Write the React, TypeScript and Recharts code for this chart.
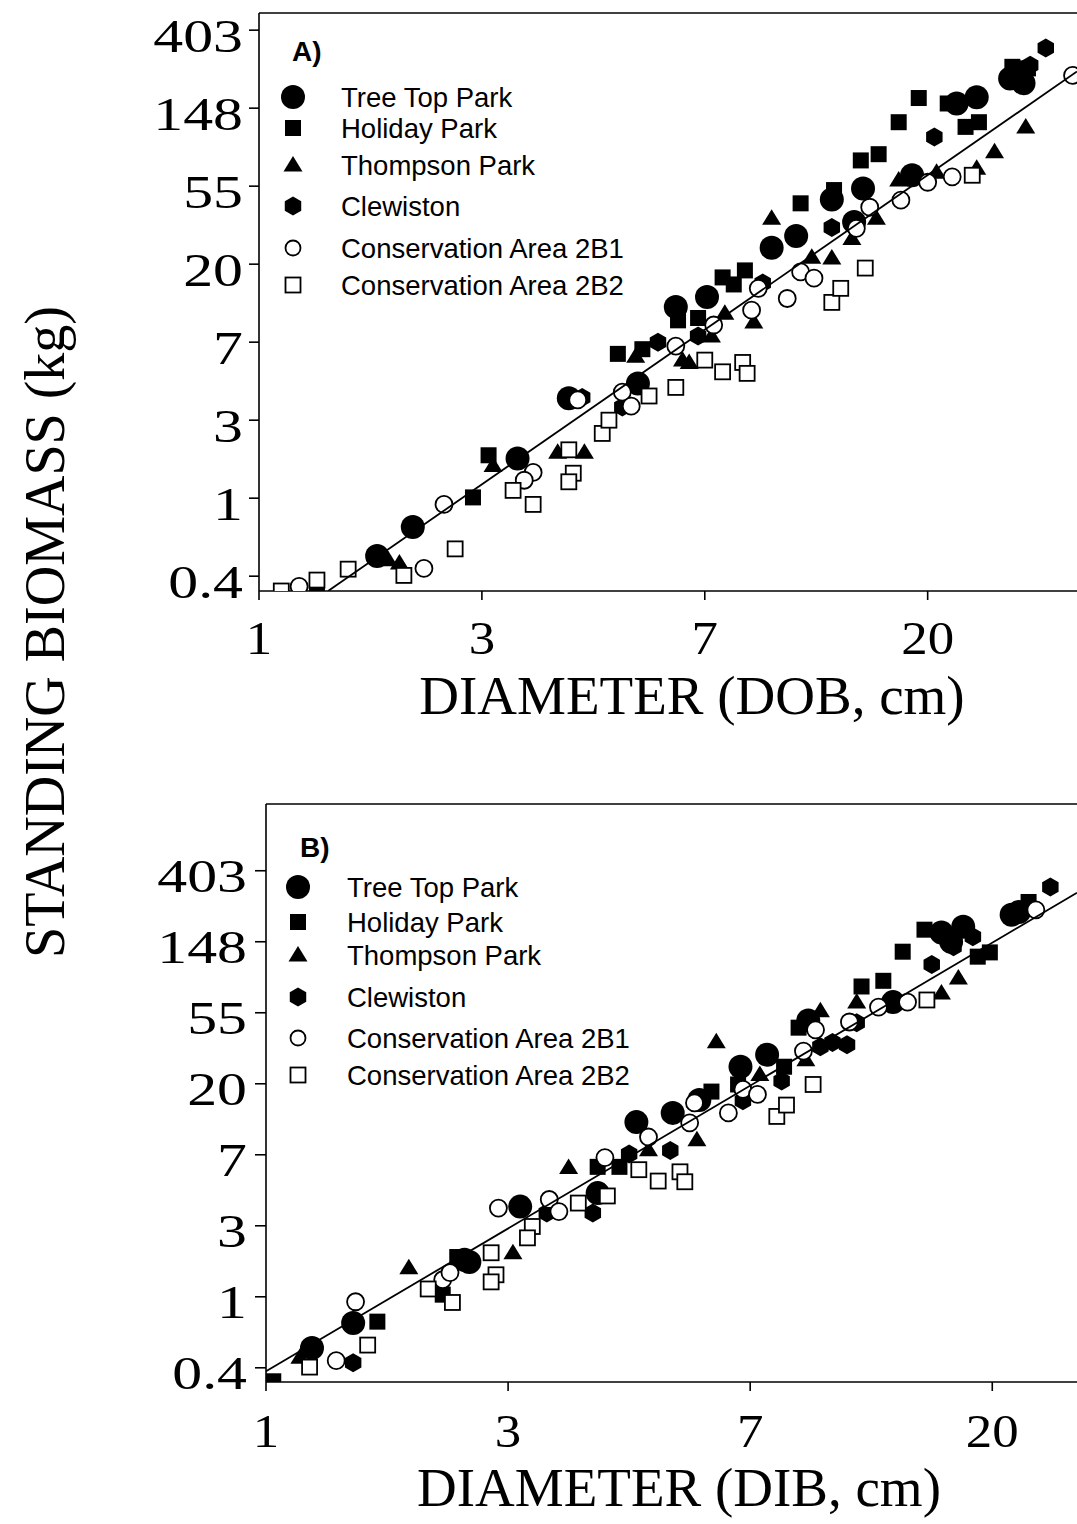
import React from 'react';
import { ScatterChart, Scatter, XAxis, YAxis, ReferenceLine, Customized } from 'recharts';

// All values are natural logs, as in the original figure:
// x = ln(diameter, cm), y = ln(standing biomass, kg). Tick labels are the back-transformed values.
type Pt = [number, number];

const xTickValues = [0, 1, 2, 3];
const xTickLabels = ['1', '3', '7', '20'];
const yTickValues = [-1, 0, 1, 2, 3, 4, 5, 6];
const yTickLabels = ['0.4', '1', '3', '7', '20', '55', '148', '403'];

const siteNames = [
  'Tree Top Park',
  'Holiday Park',
  'Thompson Park',
  'Clewiston',
  'Conservation Area 2B1',
  'Conservation Area 2B2',
];

// ---- Panel A: diameter outside bark (DOB)
const treeTopA: Pt[] = [
  [0.53, -0.74], [0.69, -0.37], [1.16, 0.51], [1.39, 1.28], [1.70, 1.47], [1.87, 2.45],
  [2.01, 2.58], [2.30, 3.21], [2.41, 3.36], [2.57, 3.83], [2.71, 3.97], [2.67, 3.54],
  [2.93, 4.14], [3.13, 5.06], [3.22, 5.14], [3.37, 5.38], [3.43, 5.32],
];
const holidayA: Pt[] = [
  [0.26, -1.19], [0.96, 0.01], [1.03, 0.55], [1.61, 1.85], [1.72, 1.91], [1.88, 2.28],
  [1.97, 2.31], [2.08, 2.83], [2.18, 2.92], [2.13, 2.74], [2.43, 3.78], [2.58, 3.95],
  [2.70, 4.33], [2.78, 4.41], [2.87, 4.82], [2.96, 5.13], [3.09, 5.06], [3.17, 4.76],
  [3.23, 4.82], [3.38, 5.53], [3.45, 5.51],
];
const thompsonA: Pt[] = [
  [0.58, -0.79], [0.63, -0.83], [1.05, 0.42], [1.34, 0.59], [1.46, 0.59], [1.69, 1.82],
  [1.90, 1.77], [1.93, 1.74], [2.03, 2.08], [2.09, 2.37], [2.22, 2.26], [2.30, 3.59],
  [2.48, 3.09], [2.57, 3.08], [2.66, 3.33], [2.77, 3.59], [2.87, 4.08], [3.04, 4.18],
  [3.22, 4.23], [3.30, 4.44], [3.44, 4.76],
];
const clewistonA: Pt[] = [
  [1.45, 1.29], [1.63, 1.17], [1.79, 2.0], [1.97, 2.08], [2.26, 2.76], [2.57, 3.47],
  [3.03, 4.63], [3.46, 5.55], [3.53, 5.77],
];
const area2b1A: Pt[] = [
  [0.18, -1.13], [0.74, -0.9], [0.83, -0.08], [1.23, 0.33], [1.19, 0.23], [1.43, 1.26],
  [1.63, 1.36], [1.67, 1.18], [1.87, 1.95], [2.04, 2.22], [2.21, 2.41], [2.24, 2.69],
  [2.37, 2.56], [2.43, 2.9], [2.49, 2.82], [2.68, 3.46], [2.74, 3.73], [2.88, 3.82],
  [3.0, 4.05], [3.11, 4.12], [3.65, 5.42],
];
const area2b2A: Pt[] = [
  [0.10, -1.19], [0.26, -1.05], [0.40, -0.91], [0.65, -0.99], [0.88, -0.65], [1.14, 0.10],
  [1.23, -0.08], [1.39, 0.62], [1.41, 0.32], [1.39, 0.21], [1.54, 0.83], [1.57, 1.0],
  [1.75, 1.31], [1.87, 1.42], [2.0, 1.77], [2.08, 1.62], [2.17, 1.74], [2.19, 1.6],
  [2.57, 2.51], [2.61, 2.69], [2.72, 2.95], [3.2, 4.14],
];
const fitA: Pt[] = [[0.31, -1.19], [3.67, 5.47]];

// ---- Panel B: diameter inside bark (DIB)
const treeTopB: Pt[] = [
  [0.19, -0.72], [0.36, -0.37], [0.82, 0.52], [0.84, 0.49], [1.05, 1.27], [1.37, 1.46],
  [1.53, 2.46], [1.68, 2.59], [1.79, 2.77], [1.96, 3.24], [2.07, 3.41], [2.24, 3.89],
  [2.59, 4.15], [2.79, 5.13], [2.83, 5.0], [2.88, 5.21], [3.08, 5.38], [3.11, 5.42],
];
const holidayB: Pt[] = [
  [0.03, -1.19], [0.46, -0.35], [0.73, 0.03], [0.79, 0.56], [1.37, 1.83], [1.46, 1.83],
  [1.84, 2.89], [1.95, 2.99], [2.14, 3.24], [2.2, 3.79], [2.46, 4.37], [2.55, 4.45],
  [2.63, 4.86], [2.72, 5.17], [2.94, 4.79], [2.99, 4.85], [3.15, 5.56],
];
const thompsonB: Pt[] = [
  [0.14, -0.85], [0.59, 0.41], [1.02, 0.62], [1.25, 1.82], [1.58, 2.07], [1.78, 2.21],
  [1.86, 3.59], [2.04, 3.13], [2.23, 3.34], [2.29, 4.03], [2.44, 4.15], [2.79, 4.28],
  [2.86, 4.49],
];
const clewistonB: Pt[] = [
  [0.36, -0.93], [1.16, 1.18], [1.35, 1.18], [1.5, 2.01], [1.67, 2.06], [1.97, 2.76],
  [2.13, 3.04], [2.29, 3.52], [2.34, 3.58], [2.4, 3.55], [2.44, 3.86], [2.75, 4.68],
  [2.84, 4.93], [2.92, 5.07], [3.24, 5.77],
];
const area2b1B: Pt[] = [
  [0.29, -0.9], [0.37, -0.07], [0.73, 0.24], [0.76, 0.34], [0.96, 1.25], [1.17, 1.37],
  [1.21, 1.2], [1.4, 1.96], [1.58, 2.25], [1.75, 2.45], [1.77, 2.73], [1.91, 2.59],
  [1.97, 2.92], [2.03, 2.85], [2.22, 3.46], [2.27, 3.76], [2.41, 3.87], [2.53, 4.08],
  [2.65, 4.15], [3.18, 5.45],
];
const area2b2B: Pt[] = [
  [0.18, -0.99], [0.42, -0.68], [0.67, 0.11], [0.77, -0.08], [0.93, 0.62], [0.95, 0.31],
  [0.93, 0.21], [1.1, 0.99], [1.08, 0.83], [1.29, 1.32], [1.41, 1.42], [1.54, 1.79],
  [1.62, 1.63], [1.71, 1.76], [1.73, 1.62], [2.11, 2.54], [2.15, 2.7], [2.26, 2.99],
  [2.73, 4.18],
];
const fitB: Pt[] = [[0.0, -1.05], [3.35, 5.69]];

const SERIF = '"Liberation Serif", "Times New Roman", serif';
const SANS = '"Liberation Sans", Arial, sans-serif';
const INK = '#000';
const AXIS = { stroke: INK, strokeWidth: 1.6 };

type Kind = 'dot' | 'square' | 'triangle' | 'hex' | 'ring' | 'box';
const kinds: Kind[] = ['dot', 'square', 'triangle', 'hex', 'ring', 'box'];

const toXY = (pts: Pt[]) => pts.map(([x, y]) => ({ x, y }));

function Mark({ kind, cx, cy, legend = false }: { kind: Kind; cx: number; cy: number; legend?: boolean }) {
  switch (kind) {
    case 'dot':
      return <circle cx={cx} cy={cy} r={12} fill={INK} />;
    case 'square':
      return <rect x={cx - 8} y={cy - 8} width={16} height={16} fill={INK} />;
    case 'triangle':
      return <polygon points={`${cx},${cy - 9} ${cx + 9.5},${cy + 6.5} ${cx - 9.5},${cy + 6.5}`} fill={INK} />;
    case 'hex': {
      const r = 9.5;
      const pts = [-90, -30, 30, 90, 150, 210]
        .map((a) => `${cx + r * Math.cos((a * Math.PI) / 180)},${cy + r * Math.sin((a * Math.PI) / 180)}`)
        .join(' ');
      return <polygon points={pts} fill={INK} />;
    }
    case 'ring':
      return <circle cx={cx} cy={cy} r={legend ? 7.5 : 8.5} fill="#fff" stroke={INK} strokeWidth={1.8} />;
    case 'box':
      return <rect x={cx - 7.5} y={cy - 7.5} width={15} height={15} fill="#fff" stroke={INK} strokeWidth={1.8} />;
  }
  return null;
}

const NoMark = () => <g />;

const makeXTick = (scaleX: number) => (props: any) => {
  const { x, y, payload } = props;
  const label = xTickLabels[xTickValues.indexOf(payload.value)];
  return (
    <text
      transform={`translate(${x},${y}) scale(${scaleX},1)`}
      textAnchor="middle"
      dy="0.7em"
      fontFamily={SERIF}
      fontSize={46}
      fill={INK}
    >
      {label}
    </text>
  );
};

const makeYTick = (scaleX: number) => (props: any) => {
  const { x, y, payload } = props;
  const label = yTickLabels[yTickValues.indexOf(payload.value)];
  return (
    <text
      transform={`translate(${x},${y + 6}) scale(${scaleX},1)`}
      textAnchor="end"
      dy="0.34em"
      fontFamily={SERIF}
      fontSize={46}
      fill={INK}
    >
      {label}
    </text>
  );
};

type PanelProps = {
  top: number;
  height: number;
  marginTop: number;
  yAxisWidth: number;
  xAxisHeight: number;
  xMax: number;
  yDomain: [number, number];
  yTickSize: number;
  yTickMargin: number;
  xTickMargin: number;
  series: Pt[][];
  fit: Pt[];
  tag: string;
  tagPos: [number, number];
  markX: number;
  textX: number;
  rows: number[];
  title: string;
  titlePos: [number, number];
};

function Panel(p: PanelProps) {
  const overlay = () => (
    <g>
      <text x={p.tagPos[0]} y={p.tagPos[1]} fontFamily={SANS} fontWeight="bold" fontSize={28} fill={INK}>
        {p.tag}
      </text>
      {siteNames.map((name, i) => (
        <g key={name}>
          <Mark kind={kinds[i]} cx={p.markX} cy={p.rows[i]} legend />
          <text x={p.textX} y={p.rows[i]} dy="0.36em" fontFamily={SANS} fontSize={27.5} fill={INK}>
            {name}
          </text>
        </g>
      ))}
      <text x={p.titlePos[0]} y={p.titlePos[1]} textAnchor="middle" fontFamily={SERIF} fontSize={55} fill={INK}>
        {p.title}
      </text>
    </g>
  );

  return (
    <div style={{ position: 'absolute', left: 0, top: p.top }}>
      <ScatterChart width={1077} height={p.height} margin={{ top: p.marginTop, right: 0, bottom: 0, left: 0 }}>
        <XAxis
          type="number"
          dataKey="x"
          domain={[0, p.xMax]}
          ticks={xTickValues}
          tick={makeXTick(1.15)}
          tickSize={9}
          tickMargin={p.xTickMargin}
          height={p.xAxisHeight}
          axisLine={AXIS}
          tickLine={AXIS}
          allowDataOverflow
        />
        <YAxis
          type="number"
          dataKey="y"
          domain={p.yDomain}
          ticks={yTickValues}
          tick={makeYTick(1.3)}
          tickSize={p.yTickSize}
          tickMargin={p.yTickMargin}
          width={p.yAxisWidth}
          axisLine={AXIS}
          tickLine={AXIS}
          allowDataOverflow
        />
        <ReferenceLine y={p.yDomain[1]} stroke={INK} strokeWidth={1.6} />
        {p.series.map((pts, i) => (
          <Scatter
            key={siteNames[i]}
            name={siteNames[i]}
            data={toXY(pts)}
            isAnimationActive={false}
            shape={(s: any) => <Mark kind={kinds[i]} cx={s.cx} cy={s.cy} />}
          />
        ))}
        <Scatter
          name="fit"
          data={toXY(p.fit)}
          line={{ stroke: INK, strokeWidth: 1.8 }}
          shape={NoMark}
          isAnimationActive={false}
        />
        <Customized component={overlay} />
      </ScatterChart>
    </div>
  );
}

export default function App() {
  return (
    <div style={{ position: 'absolute', left: 0, top: 0, width: 1077, height: 1524, background: '#fff' }}>
      <svg width={120} height={1524} style={{ position: 'absolute', left: 0, top: 0 }}>
        <text
          x={64}
          y={632}
          transform="rotate(-90 64 632)"
          textAnchor="middle"
          fontFamily={SERIF}
          fontSize={56}
          fill={INK}
        >
          STANDING BIOMASS (kg)
        </text>
      </svg>
      <Panel
        top={0}
        height={745}
        marginTop={13}
        yAxisWidth={259}
        xAxisHeight={154}
        xMax={3.67}
        yDomain={[-1.19, 6.22]}
        yTickSize={10}
        yTickMargin={6}
        xTickMargin={22}
        series={[treeTopA, holidayA, thompsonA, clewistonA, area2b1A, area2b2A]}
        fit={fitA}
        tag="A)"
        tagPos={[292, 61]}
        markX={293}
        textX={341}
        rows={[97, 128, 165, 206, 248, 285]}
        title="DIAMETER (DOB, cm)"
        titlePos={[692, 714]}
      />
      <Panel
        top={790}
        height={734}
        marginTop={14}
        yAxisWidth={266}
        xAxisHeight={142}
        xMax={3.35}
        yDomain={[-1.2, 6.94]}
        yTickSize={11}
        yTickMargin={8}
        xTickMargin={24}
        series={[treeTopB, holidayB, thompsonB, clewistonB, area2b1B, area2b2B]}
        fit={fitB}
        tag="B)"
        tagPos={[300, 67]}
        markX={298}
        textX={347}
        rows={[97, 132, 165, 207, 248, 285]}
        title="DIAMETER (DIB, cm)"
        titlePos={[679, 716]}
      />
    </div>
  );
}
